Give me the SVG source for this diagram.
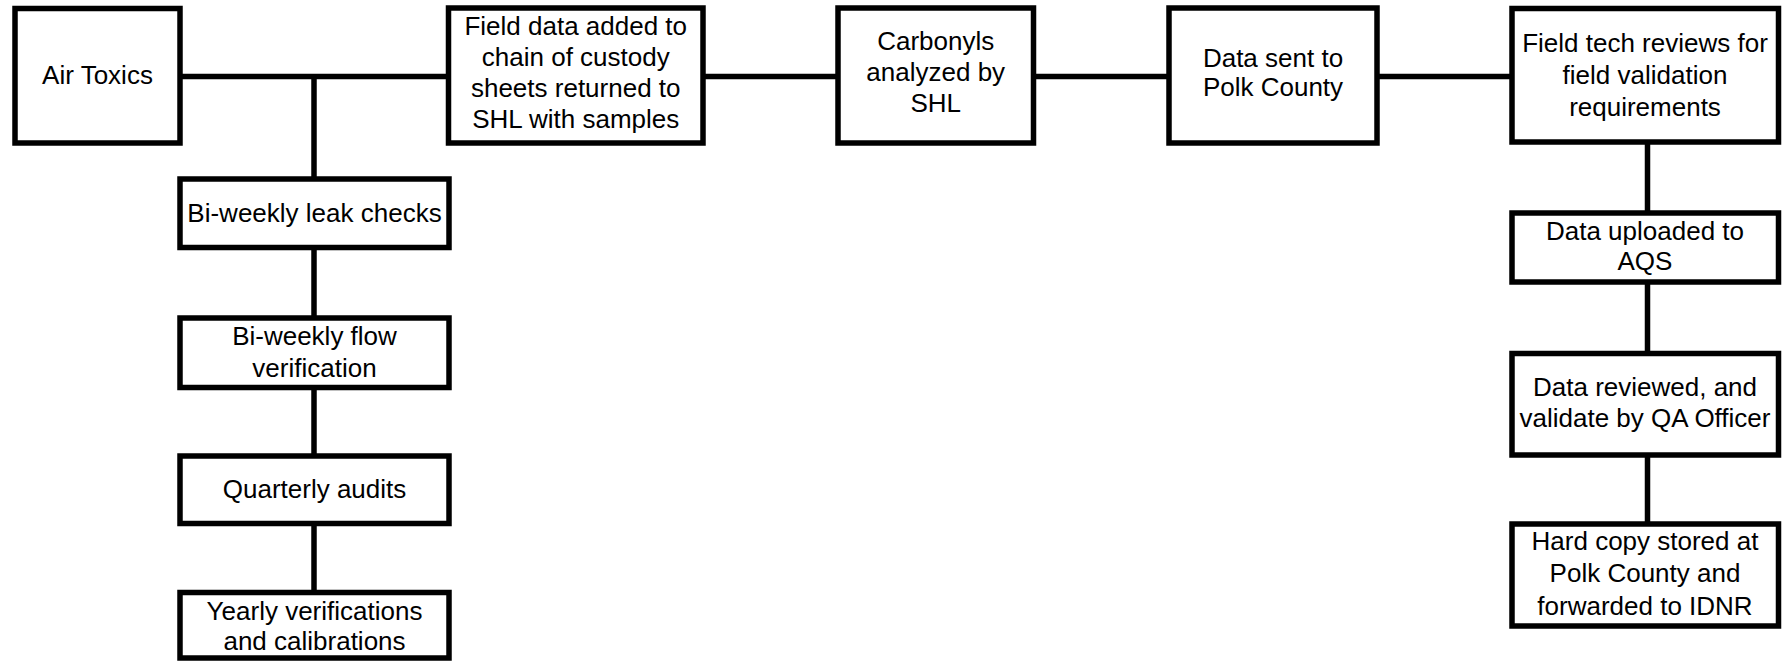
<svg xmlns="http://www.w3.org/2000/svg" width="1785" height="661" viewBox="0 0 1785 661">
<style>
.box{fill:#fff;stroke:#000;stroke-width:5.5}
.ln{stroke:#000;stroke-width:5.5;fill:none}
text{font-family:"Liberation Sans",Arial,sans-serif;font-size:26px;fill:#000;text-anchor:middle}
</style>
<rect width="1785" height="661" fill="#fff"/>
<g id="connectors">
<line class="ln" x1="180" y1="76.5" x2="448.5" y2="76.5"/>
<line class="ln" x1="314" y1="76.5" x2="314" y2="179"/>
<line class="ln" x1="703" y1="76.5" x2="838" y2="76.5"/>
<line class="ln" x1="1033.5" y1="76.5" x2="1169" y2="76.5"/>
<line class="ln" x1="1377" y1="76.5" x2="1512" y2="76.5"/>
<line class="ln" x1="314" y1="247.5" x2="314" y2="318"/>
<line class="ln" x1="314" y1="387.5" x2="314" y2="456"/>
<line class="ln" x1="314" y1="523.5" x2="314" y2="592.5"/>
<line class="ln" x1="1647.5" y1="142" x2="1647.5" y2="213"/>
<line class="ln" x1="1647.5" y1="282" x2="1647.5" y2="353.5"/>
<line class="ln" x1="1647.5" y1="455" x2="1647.5" y2="524"/>
</g>
<g id="air-toxics">
<rect class="box" x="15" y="8.5" width="165" height="134.5"/>
<text x="97.5" y="83.5">Air Toxics</text>
</g>
<g id="field-data">
<rect class="box" x="448.5" y="8" width="254.5" height="135"/>
<text x="575.75" y="35">Field data added to</text>
<text x="575.75" y="66">chain of custody</text>
<text x="575.75" y="97">sheets returned to</text>
<text x="575.75" y="128">SHL with samples</text>
</g>
<g id="carbonyls">
<rect class="box" x="838" y="8" width="195.5" height="135"/>
<text x="935.75" y="50">Carbonyls</text>
<text x="935.75" y="81">analyzed by</text>
<text x="935.75" y="112">SHL</text>
</g>
<g id="data-sent">
<rect class="box" x="1169" y="8" width="208" height="135"/>
<text x="1273" y="66.5">Data sent to</text>
<text x="1273" y="96">Polk County</text>
</g>
<g id="field-tech">
<rect class="box" x="1512" y="8.5" width="266.5" height="133.5"/>
<text x="1645" y="52">Field tech reviews for</text>
<text x="1645" y="84">field validation</text>
<text x="1645" y="116">requirements</text>
</g>
<g id="leak-checks">
<rect class="box" x="180" y="179" width="269" height="68.5"/>
<text x="314.5" y="221.5">Bi-weekly leak checks</text>
</g>
<g id="flow-verification">
<rect class="box" x="180" y="318" width="269" height="69.5"/>
<text x="314.5" y="345">Bi-weekly flow</text>
<text x="314.5" y="377">verification</text>
</g>
<g id="quarterly-audits">
<rect class="box" x="180" y="456" width="269" height="67.5"/>
<text x="314.5" y="497.5">Quarterly audits</text>
</g>
<g id="yearly">
<rect class="box" x="180" y="592.5" width="269" height="65.5"/>
<text x="314.5" y="620">Yearly verifications</text>
<text x="314.5" y="650">and calibrations</text>
</g>
<g id="uploaded">
<rect class="box" x="1512" y="213" width="266.5" height="69"/>
<text x="1645" y="240">Data uploaded to</text>
<text x="1645" y="270">AQS</text>
</g>
<g id="reviewed">
<rect class="box" x="1512" y="353.5" width="266.5" height="101.5"/>
<text x="1645" y="396">Data reviewed, and</text>
<text x="1645" y="427">validate by QA Officer</text>
</g>
<g id="hard-copy">
<rect class="box" x="1512" y="524" width="266.5" height="102"/>
<text x="1645" y="549.5">Hard copy stored at</text>
<text x="1645" y="582">Polk County and</text>
<text x="1645" y="614.5">forwarded to IDNR</text>
</g>
</svg>
